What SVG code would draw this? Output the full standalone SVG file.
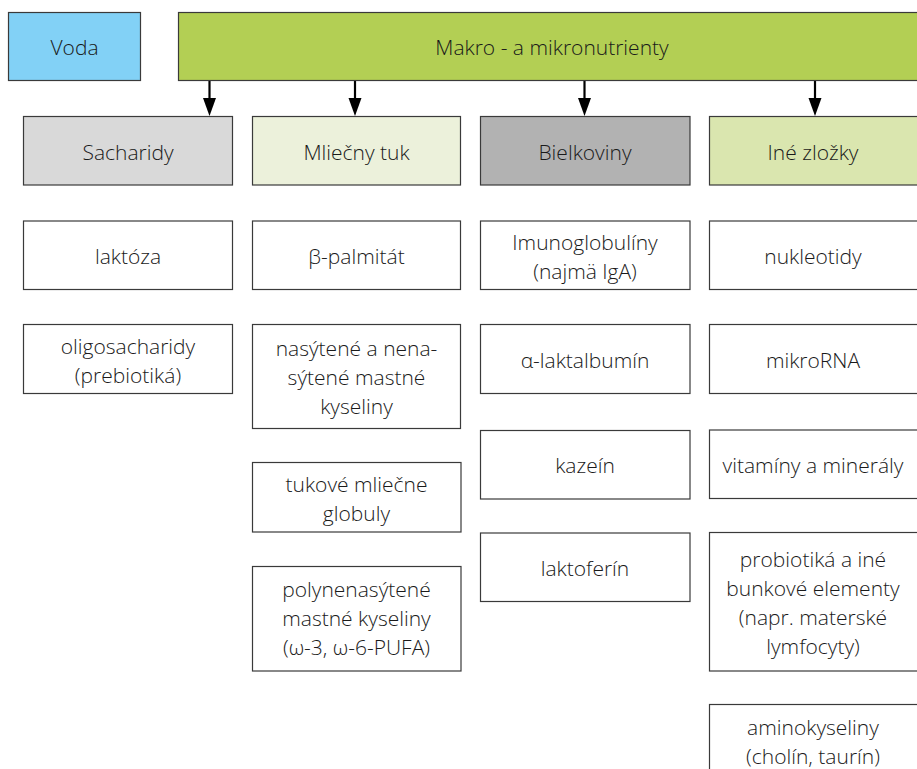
<svg xmlns="http://www.w3.org/2000/svg" width="917" height="769" viewBox="0 0 917 769">
<style>
.b{stroke:#3a3a3a;stroke-width:1.2;fill:#fff}
.t{font-family:"Open Sans","Noto Sans","Liberation Sans",sans-serif;font-weight:300;font-size:21px;fill:#1a1a1a;text-anchor:middle}
.c{stroke:#000;stroke-width:2.2;fill:none}
.h{fill:#000}
</style>
<g id="connectors">
<path class="c" d="M209.5,81 V99"/><path class="h" d="M203,98 H216 L209.5,116 Z"/>
<path class="c" d="M355,81 V99"/><path class="h" d="M348.5,98 H361.5 L355,116 Z"/>
<path class="c" d="M584.5,81 V99"/><path class="h" d="M578,98 H591 L584.5,116 Z"/>
<path class="c" d="M815,81 V99"/><path class="h" d="M808.5,98 H821.5 L815,116 Z"/>
</g>
<g id="voda"><rect class="b" x="8.5" y="12.5" width="132" height="68" style="fill:#82d1f6"/><text class="t" x="74.5" y="55">Voda</text></g>
<g id="makro"><rect class="b" x="178.5" y="12.5" width="750" height="68" style="fill:#b3cf54"/><text class="t" x="552" y="55">Makro - a mikronutrienty</text></g>
<g id="sacharidy"><rect class="b" x="23.5" y="116.5" width="209" height="68.5" style="fill:#d9d9d9"/><text class="t" x="128" y="160">Sacharidy</text></g>
<g id="tuk"><rect class="b" x="252.5" y="116.5" width="208" height="68.5" style="fill:#ecf1db"/><text class="t" x="356.5" y="160">Mliečny tuk</text></g>
<g id="bielkoviny"><rect class="b" x="480.5" y="116.5" width="209.5" height="68.5" style="fill:#b2b2b2"/><text class="t" x="585" y="160">Bielkoviny</text></g>
<g id="ine"><rect class="b" x="709.5" y="116.5" width="212" height="68.5" style="fill:#dae6af"/><text class="t" x="813" y="160">Iné zložky</text></g>

<g id="laktoza"><rect class="b" x="23.5" y="221" width="209" height="68.5"/><text class="t" x="128" y="264">laktóza</text></g>
<g id="oligo"><rect class="b" x="23.5" y="324.5" width="209" height="69"/><text class="t" x="128" y="354">oligosacharidy</text><text class="t" x="128" y="383">(prebiotiká)</text></g>

<g id="palmitat"><rect class="b" x="252.5" y="221" width="208" height="68.5"/><text class="t" x="356.5" y="264">β-palmitát</text></g>
<g id="nasytene"><rect class="b" x="252.5" y="324.5" width="208" height="104"/><text class="t" x="356.5" y="356">nasýtené a nena-</text><text class="t" x="356.5" y="385">sýtené mastné</text><text class="t" x="356.5" y="414">kyseliny</text></g>
<g id="tukove"><rect class="b" x="252.5" y="462.5" width="208.5" height="69.5"/><text class="t" x="356.5" y="492">tukové mliečne</text><text class="t" x="356.5" y="521">globuly</text></g>
<g id="pufa"><rect class="b" x="252.5" y="566.5" width="208.5" height="104.5"/><text class="t" x="356.5" y="597">polynenasýtené</text><text class="t" x="356.5" y="626">mastné kyseliny</text><text class="t" x="356.5" y="655">(ω-3, ω-6-PUFA)</text></g>

<g id="imuno"><rect class="b" x="480.5" y="221" width="209.5" height="68.5"/><text class="t" x="585" y="250">Imunoglobulíny</text><text class="t" x="585" y="279">(najmä IgA)</text></g>
<g id="alfa"><rect class="b" x="480.5" y="324.5" width="209.5" height="69"/><text class="t" x="585" y="368">α-laktalbumín</text></g>
<g id="kazein"><rect class="b" x="480.5" y="430.5" width="209.5" height="68.5"/><text class="t" x="585" y="473">kazeín</text></g>
<g id="laktoferin"><rect class="b" x="480.5" y="533" width="209.5" height="68.5"/><text class="t" x="585" y="576">laktoferín</text></g>

<g id="nukleotidy"><rect class="b" x="709.5" y="221" width="212" height="68.5"/><text class="t" x="813" y="264">nukleotidy</text></g>
<g id="mikrorna"><rect class="b" x="709.5" y="324.5" width="212" height="69"/><text class="t" x="813" y="368">mikroRNA</text></g>
<g id="vitaminy"><rect class="b" x="709.5" y="430" width="212" height="68.5"/><text class="t" x="813" y="473">vitamíny a minerály</text></g>
<g id="probiotika"><rect class="b" x="709.5" y="532.5" width="212" height="138.5"/><text class="t" x="813" y="567">probiotiká a iné</text><text class="t" x="813" y="596">bunkové elementy</text><text class="t" x="813" y="625">(napr. materské</text><text class="t" x="813" y="654">lymfocyty)</text></g>
<g id="aminokyseliny"><rect class="b" x="709.5" y="704.5" width="212" height="80"/><text class="t" x="813" y="735">aminokyseliny</text><text class="t" x="813" y="764">(cholín, taurín)</text></g>
</svg>
